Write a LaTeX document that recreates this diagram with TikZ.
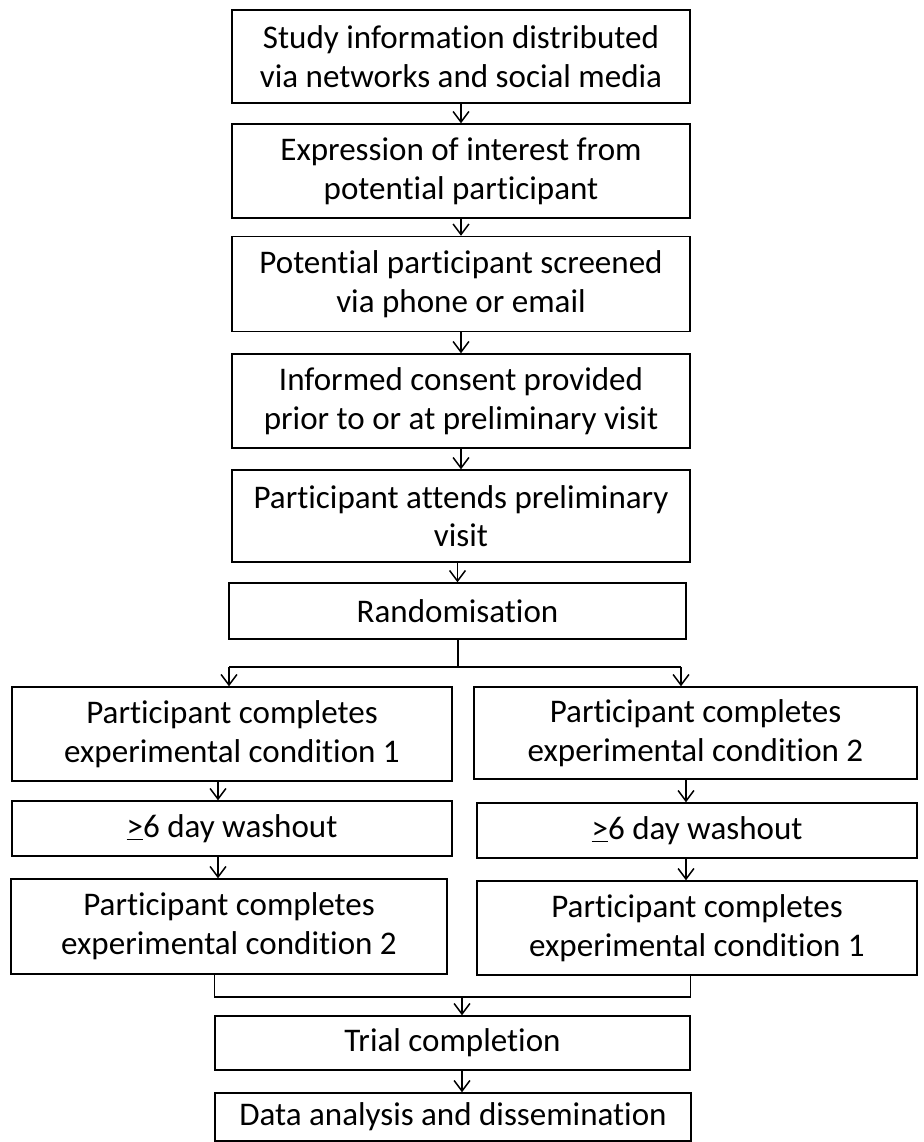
\documentclass[tikz,border=0pt]{standalone}
\usepackage{fontspec}
\setmainfont{Carlito}[Ligatures=NoCommon]
\usetikzlibrary{arrows.meta}

\begin{document}
\begin{tikzpicture}[x=0.02cm,y=-0.02cm,
  box/.style={draw,line width=0.85pt,align=center,inner sep=0pt,font=\fontsize{18.8}{22}\selectfont},
  link/.style={line width=0.85pt},
  arr/.style={link,-{Straight Barb[length=6pt,width=9pt]}}]
\useasboundingbox (0,0) rectangle (923,1142);
% main column
\node (b1) [box,minimum width=9.16cm,minimum height=1.86cm] at (461,56.5) {Study information distributed\\via networks and social media} ;
\node (b2) [box,minimum width=9.16cm,minimum height=1.88cm] at (461,171) {Expression of interest from\\potential participant} ;
\node (b3) [box,minimum width=9.16cm,minimum height=1.9cm] at (461,284) {Potential participant screened\\via phone or email} ;
\node (b4) [box,minimum width=9.16cm,minimum height=1.88cm] at (461,401) {Informed consent provided\\prior to or at preliminary visit} ;
\node (b5) [box,minimum width=9.16cm,minimum height=1.84cm] at (461,516) {Participant attends preliminary\\visit} ;
\node (rand) [box,minimum width=9.14cm,minimum height=1.12cm] at (457.5,611) {Randomisation} ;
% two arms
\node (l1) [box,minimum width=8.8cm,minimum height=1.88cm] at (232,734) {Participant completes\\experimental condition 1} ;
\node (lw) [box,minimum width=8.8cm,minimum height=1.1cm] at (232,828.5) {\underline{>}6 day washout} ;
\node (l2) [box,minimum width=8.72cm,minimum height=1.9cm] at (229,926.5) {Participant completes\\experimental condition 2} ;
\node (r1) [box,minimum width=8.86cm,minimum height=1.84cm] at (695.5,733) {Participant completes\\experimental condition 2} ;
\node (rw) [box,minimum width=8.8cm,minimum height=1.1cm] at (697,830.5) {\underline{>}6 day washout} ;
\node (r2) [box,minimum width=8.8cm,minimum height=1.88cm] at (697,928) {Participant completes\\experimental condition 1} ;
% end
\node (trial) [box,minimum width=9.5cm,minimum height=1.08cm] at (452.5,1043) {Trial completion} ;
\node (data) [box,minimum width=9.52cm,minimum height=0.96cm] at (453,1117) {Data analysis and dissemination} ;
\coordinate (sp) at (458,667) ;
\coordinate (spl) at (229,667) ;
\coordinate (spr) at (681,667) ;
\coordinate (lc) at (218,0) ;
\coordinate (rc) at (686,0) ;
\coordinate (mg) at (462,997) ;
\draw[arr] (b1) to (b2) ;
\draw[arr] (b2) to (b3) ;
\draw[arr] (b3) to (b4) ;
\draw[arr] (b4) to (b5) ;
\draw[arr] (b5.south -| rand) to (rand.north) ;
\draw[link] (rand.south -| sp) to (sp) ;
\draw[link] (spl) to (spr) ;
\draw[arr] (spl) to (spl |- l1.north) ;
\draw[arr] (spr) to (spr |- r1.north) ;
\draw[arr] (l1.south -| lc) to (lw.north -| lc) ;
\draw[arr] (lw.south -| lc) to (l2.north -| lc) ;
\draw[arr] (r1.south -| rc) to (rw.north -| rc) ;
\draw[arr] (rw.south -| rc) to (r2.north -| rc) ;
\draw[link] (l2.south -| trial.west) -- (mg -| trial.west) -- (mg -| trial.east) -- (r2.south -| trial.east) ;
\draw[arr] (mg) to (mg |- trial.north) ;
\draw[arr] (trial.south -| mg) to (data.north -| mg) ;
\end{tikzpicture}
\end{document}
